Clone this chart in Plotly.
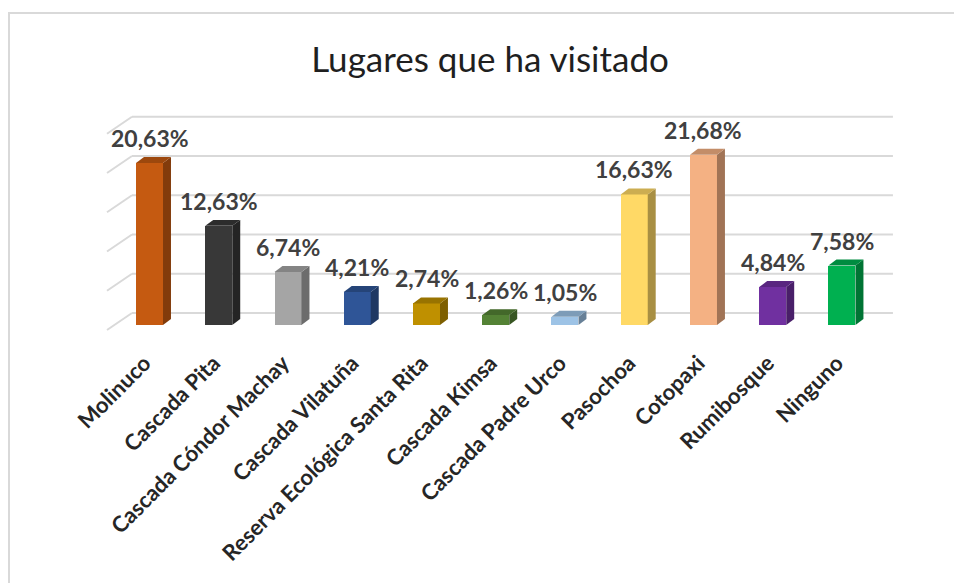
import plotly.graph_objects as go

# Survey results: places visited (percent of respondents)
categorias = [
    "Molinuco", "Cascada Pita", "Cascada Cóndor Machay", "Cascada Vilatuña",
    "Reserva Ecológica Santa Rita", "Cascada Kimsa", "Cascada Padre Urco",
    "Pasochoa", "Cotopaxi", "Rumibosque", "Ninguno",
]
porcentajes = [20.63, 12.63, 6.74, 4.21, 2.74, 1.26, 1.05, 16.63, 21.68, 4.84, 7.58]
colores = [
    "#C55A11", "#383838", "#A5A5A5", "#2F5597", "#BF9000", "#548235",
    "#9DC3E6", "#FFD966", "#F4B183", "#7030A0", "#00B050",
]
gridline_values = [0, 5, 10, 15, 20, 25]

# pseudo-3D geometry (axis units)
BAR_W = 0.39        # width of the front face
DEPTH_X = 0.115     # horizontal extrusion of the column
DEPTH_Y = 0.76      # vertical extrusion of the column
WALL_OFF = 1.53     # back wall sits above the floor front edge
WALL_X0, WALL_X1 = -0.253, 10.736
SIDE_X0, SIDE_DROP = -0.614, 2.17


def shade(hex_color, k):
    h = hex_color.lstrip("#")
    r, g, b = (int(h[i:i + 2], 16) for i in (0, 2, 4))
    return "#%02x%02x%02x" % (int(r * k), int(g * k), int(b * k))


fig = go.Figure()

# front faces
fig.add_trace(go.Bar(
    x=list(range(len(categorias))), y=porcentajes, base=0, width=BAR_W,
    marker=dict(color=colores, line=dict(width=0)),
    hoverinfo="skip", showlegend=False,
))

# side and top faces of each column
for i, (v, c) in enumerate(zip(porcentajes, colores)):
    xl, xr = i - BAR_W / 2, i + BAR_W / 2
    fig.add_trace(go.Scatter(
        x=[xr, xr + DEPTH_X, xr + DEPTH_X, xr, xr],
        y=[0, DEPTH_Y, v + DEPTH_Y, v, 0],
        fill="toself", fillcolor=shade(c, 0.66), mode="lines",
        line=dict(width=0, color=shade(c, 0.66)),
        hoverinfo="skip", showlegend=False,
    ))
    fig.add_trace(go.Scatter(
        x=[xl, xr, xr + DEPTH_X, xl + DEPTH_X, xl],
        y=[v, v, v + DEPTH_Y, v + DEPTH_Y, v],
        fill="toself", fillcolor=shade(c, 0.8), mode="lines",
        line=dict(width=0, color=shade(c, 0.8)),
        hoverinfo="skip", showlegend=False,
    ))

# value labels
for i, v in enumerate(porcentajes):
    fig.add_annotation(
        x=i, y=v, xref="x", yref="y", showarrow=False,
        text=f"{v:.2f}".replace(".", ",") + "%",
        xanchor="center", yanchor="bottom", yshift=9,
        font=dict(family="Lato", size=23, color="#404040", weight="bold"),
    )

# back wall and side wall gridlines
shapes = []
for g in gridline_values:
    shapes.append(dict(type="line", xref="x", yref="y", layer="below",
                       x0=WALL_X0, x1=WALL_X1, y0=g + WALL_OFF, y1=g + WALL_OFF,
                       line=dict(color="#D9D9D9", width=2)))
    shapes.append(dict(type="line", xref="x", yref="y", layer="below",
                       x0=SIDE_X0, x1=WALL_X0, y0=g + WALL_OFF - SIDE_DROP,
                       y1=g + WALL_OFF, line=dict(color="#D9D9D9", width=2)))

# chart frame
shapes.append(dict(type="rect", xref="paper", yref="paper",
                   xsizemode="pixel", ysizemode="pixel", xanchor=0, yanchor=1,
                   x0=-91, x1=900, y0=87, y1=-600,
                   line=dict(color="#D9D9D9", width=2), fillcolor="rgba(0,0,0,0)"))

fig.update_layout(
    width=954, height=583,
    margin=dict(l=100, r=54, t=100, b=243),
    paper_bgcolor="white", plot_bgcolor="white",
    title=dict(text="Lugares que ha visitado", x=490 / 954, xref="container",
               xanchor="center", y=1 - 60 / 583, yanchor="middle",
               font=dict(family="Lato", size=35, color="#1F1F1F")),
    xaxis=dict(range=[-0.715, 10.838], tickvals=list(range(len(categorias))),
               ticktext=categorias, tickangle=-45, showgrid=False, zeroline=False,
               showline=False, ticks="", ticklabelstandoff=5, ticklabelshift=-5,
               tickfont=dict(family="Lato", size=22, color="#262626", weight="bold")),
    yaxis=dict(range=[-1.911, 28.662], visible=False),
    shapes=shapes,
    bargap=0,
)

fig.write_html("out.html")
